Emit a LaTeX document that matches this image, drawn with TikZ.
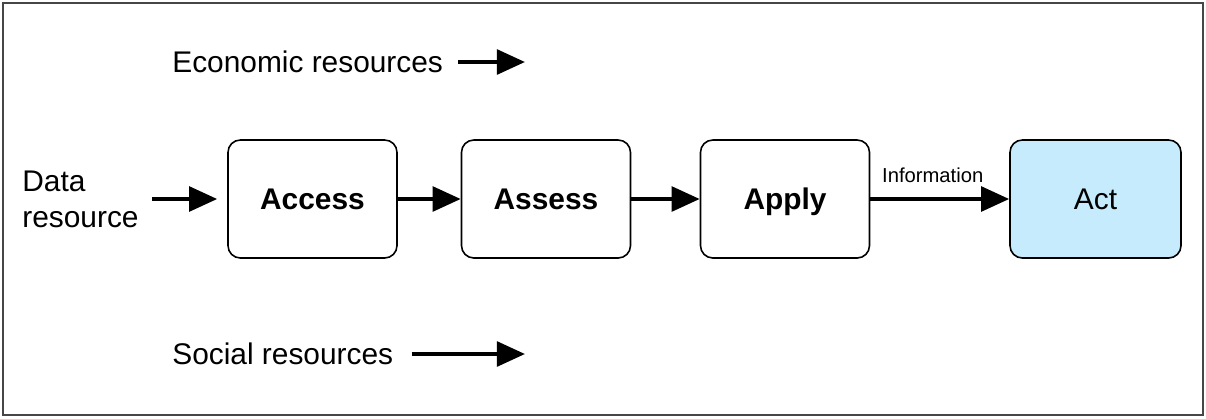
\documentclass[tikz,border=0pt]{standalone}
\usepackage{fontspec}
\setmainfont{Liberation Sans}
\definecolor{actblue}{RGB}{198, 235, 252}
\definecolor{framegray}{RGB}{70, 70, 70}
\usetikzlibrary{arrows.meta, positioning}

\begin{document}
\begin{tikzpicture}[
  stage/.style={draw=#1, rounded corners=7pt, line width=0.9pt, minimum width=3.38cm, minimum height=2.36cm, text height=13pt, text depth=1pt, font=\fontsize{17}{20}\selectfont\bfseries},
  label/.style={inner sep=0pt, align=left, font=\fontsize{17}{20.5}\selectfont},
  flow/.style={line width=2.3pt, -{Triangle[length=16pt, width=14pt]}},
]
  \useasboundingbox (0, 0) rectangle (24.12, -8.36);
  \draw[framegray, line width=1.2pt] (0.06, -0.06) rectangle (24.06, -8.30);

  % main chain
  \node[stage=black] (access) at (6.25, -3.98) {Access};
  \node[stage=black] (assess) at (10.92, -3.98) {Assess};
  \node[stage=black] (apply) at (15.70, -3.98) {Apply};
  \node[stage=black, fill=actblue, font=\fontsize{17}{20}\selectfont, minimum width=3.42cm] (act) at (21.91, -3.98) {Act};

  % resources
  \node[label, anchor=west] (data) at (0.44, -3.98) {Data\\resource};
  \node[label, anchor=west] (econ) at (3.44, -1.24) {Economic resources};
  \node[label, anchor=west] (social) at (3.44, -7.08) {Social resources};
  \coordinate (econend) at (10.5, -1.24);
  \coordinate (socialend) at (10.5, -7.08);

  \draw[flow, shorten <=0.26cm, shorten >=0.2cm] (data) -- (access);
  \draw[flow] (access) -- (assess);
  \draw[flow] (assess) -- (apply);
  \draw[flow] (apply) -- node[above=5pt, xshift=-4pt, font=\fontsize{11.5}{13}\selectfont] (info) {Information} (act);
  \draw[flow, shorten <=0.3cm] (econ) -- (econend);
  \draw[flow, shorten <=0.36cm] (social) -- (socialend);
\end{tikzpicture}
\end{document}
